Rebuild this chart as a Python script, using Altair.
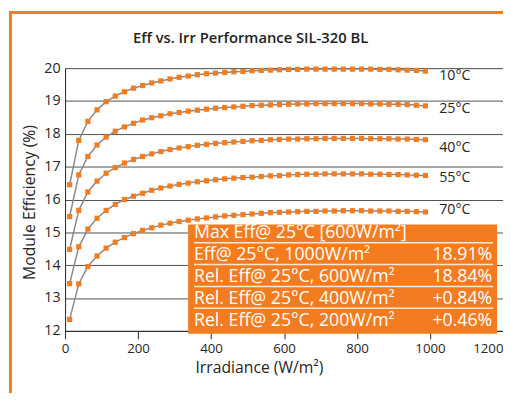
import altair as alt
import pandas as pd

irradiance = [12.5, 37.5, 62.5, 87.5, 112.5, 137.5, 162.5, 187.5, 212.5, 237.5,
              262.5, 287.5, 312.5, 337.5, 362.5, 387.5, 412.5, 437.5, 462.5, 487.5,
              512.5, 537.5, 562.5, 587.5, 612.5, 637.5, 662.5, 687.5, 712.5, 737.5,
              762.5, 787.5, 812.5, 837.5, 862.5, 887.5, 912.5, 937.5, 962.5, 987.5]

eff_10 = [16.45, 17.80, 18.38, 18.73, 18.98, 19.15, 19.28, 19.39, 19.47, 19.55,
          19.61, 19.67, 19.72, 19.76, 19.80, 19.83, 19.85, 19.87, 19.89, 19.90,
          19.92, 19.93, 19.94, 19.95, 19.96, 19.96, 19.97, 19.97, 19.97, 19.97,
          19.97, 19.97, 19.97, 19.97, 19.96, 19.96, 19.95, 19.94, 19.93, 19.91]
eff_25 = [15.48, 16.75, 17.31, 17.66, 17.90, 18.08, 18.21, 18.32, 18.42, 18.49,
          18.55, 18.61, 18.65, 18.69, 18.72, 18.75, 18.78, 18.80, 18.82, 18.84,
          18.86, 18.87, 18.88, 18.89, 18.90, 18.91, 18.91, 18.92, 18.92, 18.92,
          18.92, 18.92, 18.92, 18.91, 18.91, 18.90, 18.90, 18.89, 18.87, 18.85]
eff_40 = [14.48, 15.67, 16.23, 16.56, 16.80, 16.97, 17.11, 17.22, 17.31, 17.39,
          17.46, 17.52, 17.57, 17.61, 17.65, 17.68, 17.71, 17.73, 17.75, 17.77,
          17.79, 17.80, 17.82, 17.83, 17.84, 17.84, 17.85, 17.85, 17.86, 17.86,
          17.86, 17.86, 17.86, 17.85, 17.85, 17.85, 17.84, 17.84, 17.83, 17.82]
eff_55 = [13.44, 14.56, 15.10, 15.43, 15.67, 15.85, 16.00, 16.10, 16.19, 16.28,
          16.35, 16.41, 16.46, 16.50, 16.54, 16.57, 16.60, 16.63, 16.65, 16.67,
          16.68, 16.70, 16.72, 16.73, 16.75, 16.76, 16.77, 16.77, 16.78, 16.78,
          16.78, 16.78, 16.78, 16.77, 16.77, 16.76, 16.76, 16.75, 16.74, 16.73]
eff_70 = [12.35, 13.43, 13.96, 14.28, 14.52, 14.70, 14.84, 14.96, 15.06, 15.14,
          15.22, 15.28, 15.33, 15.37, 15.41, 15.44, 15.47, 15.50, 15.52, 15.54,
          15.56, 15.58, 15.60, 15.61, 15.62, 15.63, 15.64, 15.64, 15.65, 15.65,
          15.66, 15.66, 15.66, 15.65, 15.65, 15.65, 15.64, 15.64, 15.63, 15.62]

temps = ["10°C", "25°C", "40°C", "55°C", "70°C"]
label_y = [19.75, 18.74, 17.56, 16.64, 15.68]
label_x = 1025

table_labels = ["Max Eff@ 25°C [600W/m²]", "Eff@ 25°C, 1000W/m²",
                "Rel. Eff@ 25°C, 600W/m²", "Rel. Eff@ 25°C, 400W/m²",
                "Rel. Eff@ 25°C, 200W/m²"]
table_values = ["", "18.91%", "18.84%", "+0.84%", "+0.46%"]

x_ticks = [0, 200, 400, 600, 800, 1000, 1200]
y_ticks = [12, 13, 14, 15, 16, 17, 18, 19, 20]

FONT = "Open Sans"
ORANGE = "#F47C20"
TXT = "#262626"

rows = []
for t, series in zip(temps, [eff_10, eff_25, eff_40, eff_55, eff_70]):
    for xv, yv in zip(irradiance, series):
        rows.append({"temp": t, "irr": xv, "eff": yv})
df = pd.DataFrame(rows)

ldf = pd.DataFrame({"label": temps, "ly": label_y, "lx": [label_x] * len(temps)})
tdf = pd.DataFrame({"row": list(range(len(table_labels))), "label": table_labels, "value": table_values})

xscale = alt.Scale(domain=[0, 1200], nice=False)
yscale = alt.Scale(domain=[12, 20], nice=False)

xaxis = alt.Axis(values=x_ticks, format="d", title="Irradiance (W/m²)", grid=False,
                 tickSize=8, tickColor=TXT, domainColor=TXT, labelColor=TXT,
                 labelFont=FONT, labelFontSize=13.5, labelPadding=3, labelFlush=False,
                 labelAlign={"condition": {"test": "datum.value == 1200", "value": "right"}, "value": "center"},
                 titleFont=FONT, titleFontSize=16, titleFontWeight="normal", titleColor=TXT,
                 titleX=197, titleY=42, titleBaseline="alphabetic")
yaxis = alt.Axis(values=y_ticks, title="Module Efficiency (%)", grid=True,
                 gridColor="#505050", gridWidth=1, ticks=False, tickSize=0,
                 domainColor=TXT, labelColor=TXT, labelFont=FONT, labelFontSize=14.5,
                 labelPadding=5, titleFont=FONT, titleFontSize=16, titleFontWeight="normal",
                 titleColor=TXT, titleX=-31, titleY=136, titleBaseline="alphabetic")

X = alt.X("irr:Q", scale=xscale, axis=xaxis)
Y = alt.Y("eff:Q", scale=yscale, axis=yaxis)

lines = alt.Chart(df).mark_line(color="#8a8a8a", strokeWidth=1.5).encode(
    x=X, y=Y, detail="temp:N")
points = alt.Chart(df).mark_square(size=28, color=ORANGE, opacity=1).encode(
    x=X, y=Y, detail="temp:N")
tlabels = alt.Chart(ldf).mark_text(align="left", baseline="middle", font=FONT,
                                   fontSize=14.5, color=TXT).encode(
    x=alt.X("lx:Q", scale=xscale, axis=xaxis),
    y=alt.Y("ly:Q", scale=yscale, axis=yaxis),
    text="label:N")
main = alt.layer(lines, points, tlabels)

rowscale = alt.Scale(domain=[0, 4], range=[168, 257])
box = alt.Chart(alt.Data(values=[{}])).mark_rect(color=ORANGE, opacity=1).encode(
    x=alt.value(125), x2=alt.value(439), y=alt.value(159), y2=alt.value(270))
seps = alt.Chart(tdf).transform_filter("datum.row < 4").transform_calculate(
    sep="datum.row + 0.42").mark_rule(color="#fde6d3", strokeWidth=1.5).encode(
    x=alt.value(131), x2=alt.value(435),
    y=alt.Y("sep:Q", scale=rowscale, axis=None))
tl = alt.Chart(tdf).mark_text(align="left", baseline="middle", font=FONT,
                              fontSize=18, color="white").encode(
    x=alt.value(131), y=alt.Y("row:Q", scale=rowscale, axis=None), text="label:N")
tv = alt.Chart(tdf).mark_text(align="right", baseline="middle", font=FONT,
                              fontSize=18, color="white").encode(
    x=alt.value(434), y=alt.Y("row:Q", scale=rowscale, axis=None), text="value:N")
table = alt.layer(box, seps, tl, tv)

frame = alt.Chart(alt.Data(values=[{}])).mark_rect(
    fillOpacity=0, stroke=ORANGE, strokeWidth=3).encode(
    x=alt.value(-55.5), x2=alt.value(470), y=alt.value(-56.5), y2=alt.value(400))

chart = alt.layer(frame, main, table).resolve_scale(y="independent").properties(
    width=445, height=267,
    padding={"left": 58, "top": 58, "right": 0, "bottom": 60},
    autosize=alt.AutoSizeParams(type="none"),
    title=alt.Title("Eff vs. Irr Performance SIL-320 BL", font=FONT, fontSize=15,
                    fontWeight=600, color="#222222", anchor="middle", dx=-34,
                    frame="group", offset=0, dy=47, baseline="alphabetic"),
).configure_view(stroke=None).configure(background="white")

chart.save("out.html", embed_options={"renderer": "svg", "actions": False})
